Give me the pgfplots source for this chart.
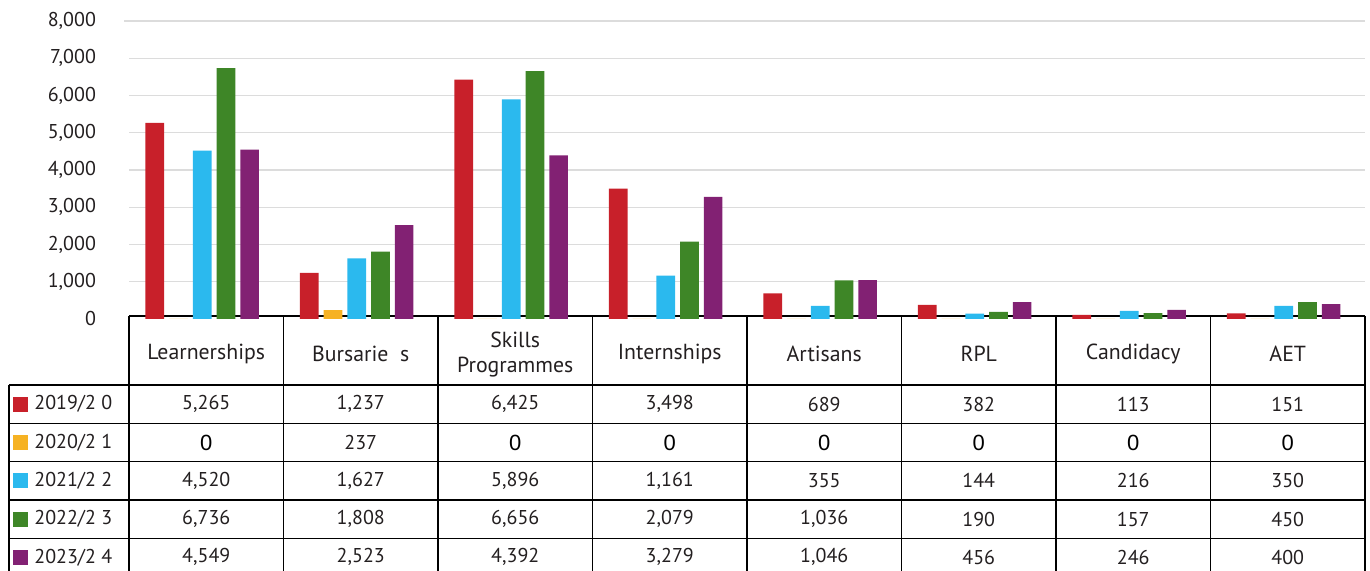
\documentclass[border=0pt]{standalone}
\usepackage{fontspec}
\setmainfont{PT Sans}
\newfontfamily\zerofont{Liberation Sans}
\usepackage{pgfplots}
\usepackage{pgfplotstable}
\pgfplotsset{compat=1.18}

\definecolor{c19}{HTML}{C8202A}
\definecolor{c20}{HTML}{F6B223}
\definecolor{c21}{HTML}{2BB9EE}
\definecolor{c22}{HTML}{3E8627}
\definecolor{c23}{HTML}{822173}
\definecolor{gridgray}{HTML}{DCDCDC}
\definecolor{ink}{HTML}{231F20}

% learner counts per programme (rows) and year (columns)
\pgfplotstableread{
idx y19  y20 y21  y22  y23
0   5265 0   4520 6736 4549
1   1237 237 1627 1808 2523
2   6425 0   5896 6656 4392
3   3498 0   1161 2079 3279
4   689  0   355  1036 1046
5   382  0   144  190  456
6   113  0   216  157  246
7   151  0   350  450  400
}\counts

\pgfkeys{/pgf/number format/.cd, 1000 sep={,}, assume math mode=true}

\begin{document}
\begin{tikzpicture}[x=1pt, y=1pt, font=\fontsize{10}{12.5}\selectfont]
\path[use as bounding box] (-64.5,-126) rectangle (620.5,159.5);
\clip (-64.5,-126) rectangle (620.5,159.5);

% data table rules
\begin{scope}[line width=0.75pt]
  \draw (0,1.5) -- (618,1.5);
  \foreach \y in {-33,-52.15,-71.35,-90.5,-109.65}
    \draw (-60,\y) -- (618,\y);
  \foreach \k in {0,...,8}
    \draw ({77.25*\k},1.5) -- ({77.25*\k},-130);
  \draw (-60,-33) -- (-60,-130);
\end{scope}

\begin{axis}[
  at={(0,0)}, anchor=south west,
  scale only axis, width=618pt, height=149pt,
  xmin=-0.474, xmax=7.526, ymin=0, ymax=8000,
  ybar=2.5pt, bar width=9.35pt,
  xtick=\empty,
  ytick={1000,2000,...,8000},
  extra y ticks={0}, extra y tick style={grid=none},
  ymajorgrids,
  grid style={gridgray, line width=0.6pt, shorten <=-2.5pt},
  axis line style={draw=none},
  major tick length=0pt,
  scaled y ticks=false,
  yticklabel style={anchor=east, xshift=-13pt, text=ink,
    /pgf/number format/.cd, 1000 sep={,}, assume math mode=true},
  clip=false,
]
\addplot[fill=c19, draw=none] table[x=idx, y=y19]{\counts};
\addplot[fill=c20, draw=none] table[x=idx, y=y20]{\counts};
\addplot[fill=c21, draw=none] table[x=idx, y=y21]{\counts};
\addplot[fill=c22, draw=none] table[x=idx, y=y22]{\counts};
\addplot[fill=c23, draw=none] table[x=idx, y=y23]{\counts};
\end{axis}

% column headers
\foreach \n [count=\k from 0] in {Learnerships, Bursarie~~s, {Skills\\Programmes},
    Internships, Artisans, RPL, Candidacy, AET}
  \node[align=center, inner sep=0pt, text=ink, font=\fontsize{10.9}{12.5}\selectfont]
    at ({77.25*(\k+0.5)},-17.6) {\n};

% row legend
\foreach \col [count=\j from 0] in {c19,c20,c21,c22,c23}
  \fill[\col] (-58,{-33-19.15*(\j+0.5)-3.75}) rectangle ++(7.5,7.5);
\begin{scope}[every node/.style={anchor=west, inner sep=0pt, text=ink}]
\node at (-47.5,{-33-19.15*0.5}) {2019/2 0};
\node at (-47.5,{-33-19.15*1.5}) {2020/2 1};
\node at (-47.5,{-33-19.15*2.5}) {2021/2 2};
\node at (-47.5,{-33-19.15*3.5}) {2022/2 3};
\node at (-47.5,{-33-19.15*4.5}) {2023/2 4};
\end{scope}

% table values
\foreach \c [count=\j from 0] in {y19,y20,y21,y22,y23} {
  \foreach \r in {0,...,7} {
    \pgfplotstablegetelem{\r}{\c}\of\counts
    \edef\v{\pgfplotsretval}
    \ifnum\v=0
      \node[inner sep=0pt, text=black] at ({77.25*(\r+0.5)},{-33-19.15*(\j+0.5)})
        {\zerofont\fontsize{11}{13}\selectfont 0};
    \else
      \node[inner sep=0pt, text=ink] at ({77.25*(\r+0.5)},{-33-19.15*(\j+0.5)})
        {\pgfmathprintnumber{\v}};
    \fi
  }
}
\end{tikzpicture}
\end{document}
